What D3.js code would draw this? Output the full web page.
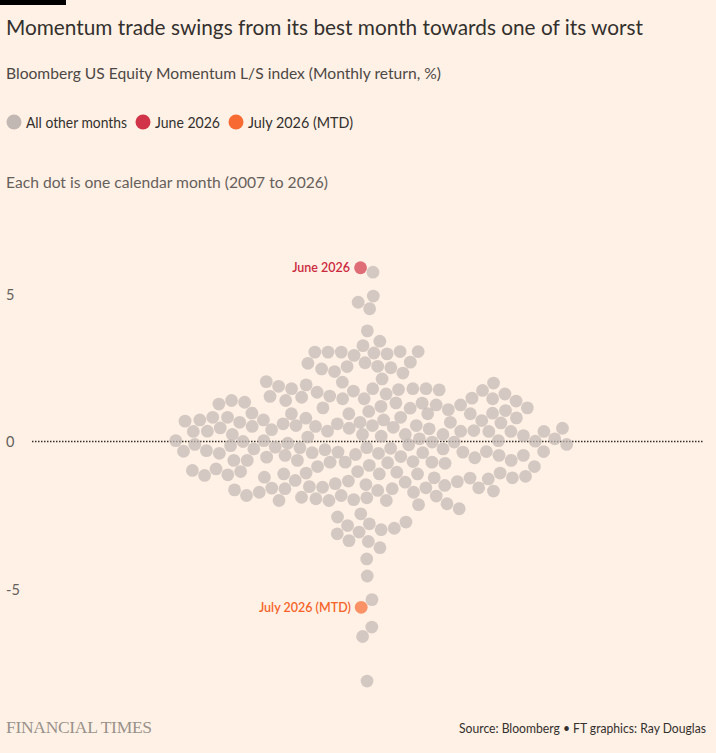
<!DOCTYPE html>
<html><head><meta charset="utf-8">
<script src="https://cdn.jsdelivr.net/npm/d3@7"></script>
<style>
html,body{margin:0;padding:0;background:#fff1e5;}
svg{display:block;font-family:Lato,"Noto Sans",sans-serif;}
</style></head>
<body>
<svg id="chart" width="716" height="753"></svg>
<script>
// Monthly returns (%), all other months
const otherMonths = [
  5.74, 4.93, 4.72, 4.50, 3.75, 3.40, 3.25, 3.03,
  2.92, 3.03, 3.00, 2.97, 3.03, 3.05, 3.05,
  2.50, 2.46, 2.32, 2.54, 2.69, 2.65, 2.37, 2.67, 2.55,
  2.03, 2.12, 1.87, 1.98, 1.73, 2.01, 1.71, 1.37, 1.39, 1.61, 1.53, 1.30, 1.39, 1.14, 1.27,
  1.79, 1.61, 1.45, 1.08, 1.19, 1.05, 0.80, 0.69, 0.63, 0.65, 0.54, 0.46, 0.34, 0.40, 0.20, 0.03, 0.09,
  -0.06, -0.02, -0.10, -0.10, -0.33, -0.34, -0.38, -0.47, -0.51, -0.55, -0.81, -0.85, -0.93, -1.04,
  -1.34, -1.38, -1.72, -1.68, -1.94,
  0.96, 0.82, 0.65, 0.73, 0.94, 0.73, 0.94, 0.54, 0.37, 0.24, 0.35, 0.24, 0.24, 0.24, 0.09, 0.60,
  -0.36, -0.19, -0.31, -0.40, -0.21, -0.40, -0.47, -0.70, -0.64, -0.64, -0.64, -0.98, -1.27, -1.15,
  -1.07, -1.23, -1.23, -1.10, -1.10, -1.83, -1.57, -1.60, -1.64, -1.83, -1.60, -1.46, -1.55, -2.00,
  1.92, 1.54, 1.47, 1.67, 1.79, 1.79, 1.79, 1.76, 1.24, 1.24, 1.31, 1.13, 1.45, 1.33, 1.02, 0.82,
  0.79, 0.94, 0.51, 0.60, 0.45, 0.45, 0.34, 0.65, 0.48, 0.15, 0.03, -0.14, -0.11, -0.23, 0.18, 0.00,
  -0.38, -0.53, -0.64, -0.47, -0.34, -0.70, -0.68, -0.72, -1.10, -1.21, -1.13, -1.02, -1.36, -1.02,
  -1.18, -1.32, -1.24, -1.66, -1.57, -1.58, -1.49, -1.89,
  1.75, 1.45, 1.50, 1.14, 0.82, 0.96, 0.94, 0.73, 0.71, 0.43, 0.35, 0.51, 0.54, 0.35, 0.34, 0.34,
  -0.21, -0.28, 0.01, 0.03, -0.36, -0.25, -0.02, -0.25, -0.44, -0.70, -0.74, -0.85, -1.07, -1.43,
  -1.53, -1.72,
  -2.14, -1.97, -2.28, -2.45, -2.73, -2.85, -2.99, -3.07, -2.79, -2.56, -2.94, -3.13, -3.39, -3.36,
  -3.60, -3.98, -4.56, -5.36, -6.29, -6.61, -8.12, -1.85, -1.91, -2.00, -2.11, -2.00
];
const highlights = [
  {name: "June 2026", value: 5.89, key: "june"},
  {name: "July 2026 (MTD)", value: -5.62, key: "july"}
];
const yTicks = [5, 0, -5];
const legendItems = [
  {label: "All other months", key: "other"},
  {label: "June 2026", key: "june"},
  {label: "July 2026 (MTD)", key: "july"}
];

const colors = {other: "#c2b8b3", june: "#d13448", july: "#f76b32"};
const labelColors = {june: "#cc2a40", july: "#f4642a"};

const W = 716, H = 753;
const svg = d3.select("#chart");
svg.append("rect").attr("width", W).attr("height", H).attr("fill", "#fff1e5");
svg.append("rect").attr("x", 0).attr("y", 0).attr("width", 66).attr("height", 5).attr("fill", "#000");

function fitText(sel, target) {
  const w = sel.node().getComputedTextLength();
  if (w > 0) sel.attr("textLength", target).attr("lengthAdjust", "spacingAndGlyphs");
  return sel;
}

fitText(svg.append("text").attr("x", 6).attr("y", 35).attr("font-size", 21).attr("fill", "#33302e")
  .text("Momentum trade swings from its best month towards one of its worst"), 637);
fitText(svg.append("text").attr("x", 6).attr("y", 79).attr("font-size", 16).attr("fill", "#4d4845")
  .text("Bloomberg US Equity Momentum L/S index (Monthly return, %)"), 435);

// legend
const legendPos = [{cx: 14, tx: 26, tw: 101}, {cx: 143, tx: 155, tw: 65}, {cx: 236, tx: 248, tw: 105}];
legendItems.forEach((d, i) => {
  const p = legendPos[i];
  svg.append("circle").attr("cx", p.cx).attr("cy", 122).attr("r", 7.5).attr("fill", colors[d.key]);
  fitText(svg.append("text").attr("x", p.tx).attr("y", 127.5).attr("font-size", 14.5).attr("fill", "#33302e").text(d.label), p.tw);
});

fitText(svg.append("text").attr("x", 6).attr("y", 188).attr("font-size", 15.5).attr("fill", "#66605c")
  .text("Each dot is one calendar month (2007 to 2026)"), 322);

// scales
const y = d3.scaleLinear().domain([-5, 5]).range([589, 294]);
const cx = 367;

// y axis labels
const axis = d3.axisLeft(y).tickValues(yTicks).tickSize(0).tickFormat(d3.format("d"));
const ag = svg.append("g").attr("transform", "translate(6,0)").call(axis);
ag.select(".domain").remove();
ag.selectAll("text").attr("text-anchor", "start").attr("x", 0).attr("dy", "0.35em")
  .attr("font-size", 14.5).attr("fill", "#66605c").attr("font-family", "Lato,'Noto Sans',sans-serif")
  .text(d => d < 0 ? "-" + Math.abs(d) : d);

// zero line
svg.append("line").attr("x1", 32).attr("x2", 703).attr("y1", y(0)).attr("y2", y(0))
  .attr("stroke", "#33302e").attr("stroke-width", 1.5).attr("stroke-dasharray", "1.5,1.5");

// beeswarm: y fixed at the value, x found by collision
const r = 6.4;
const nodes = otherMonths.map((v, i) => ({value: v, key: "other", i}))
  .concat(highlights.map(h => ({value: h.value, key: h.key, name: h.name})));
nodes.forEach((n, i) => {
  n.fy = y(n.value); n.y = n.fy;
  n.x = n.key === "other" ? cx + ((i % 2) ? 1 : -1) * (i % 7) : cx - 8;
});
const sim = d3.forceSimulation(nodes)
  .force("x", d3.forceX(cx).strength(0.04))
  .force("collide", d3.forceCollide(r + 0.2).iterations(4))
  .stop();
for (let i = 0; i < 600; i++) sim.tick();

const dots = svg.append("g");
dots.selectAll("circle").data(nodes.filter(n => n.key === "other")).join("circle")
  .attr("cx", d => d.x).attr("cy", d => d.y).attr("r", r)
  .attr("fill", colors.other).attr("fill-opacity", 0.7);
dots.selectAll("circle.hl").data(nodes.filter(n => n.key !== "other")).join("circle")
  .attr("class", "hl")
  .attr("cx", d => d.x).attr("cy", d => d.y).attr("r", r)
  .attr("fill", d => colors[d.key]).attr("fill-opacity", 0.7);

nodes.filter(n => n.key !== "other").forEach(n => {
  svg.append("text").attr("x", n.x - r - 4).attr("y", n.y + 4.5).attr("text-anchor", "end")
    .attr("font-size", 12.5).attr("font-weight", 600).attr("fill", labelColors[n.key]).text(n.name);
});

// footer
svg.append("text").attr("x", 6).attr("y", 733).attr("font-size", 17.5)
  .attr("font-family", "'Liberation Serif','DejaVu Serif',serif").attr("fill", "#99918b")
  .attr("letter-spacing", "-0.3").text("FINANCIAL TIMES");
fitText(svg.append("text").attr("x", 706).attr("y", 733).attr("text-anchor", "end").attr("font-size", 12.5)
  .attr("fill", "#33302e").text("Source: Bloomberg • FT graphics: Ray Douglas"), 247);
</script>
</body></html>
